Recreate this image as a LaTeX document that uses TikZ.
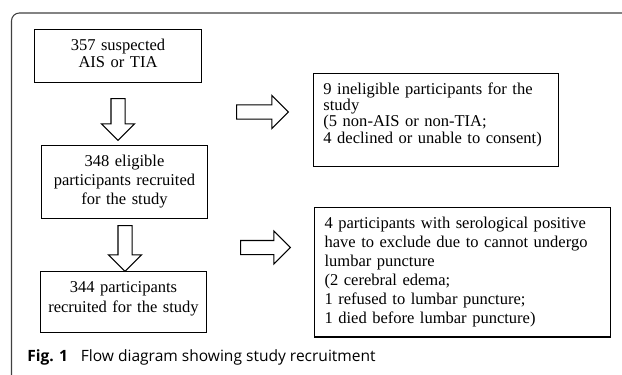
\documentclass[tikz,border=0pt]{standalone}
\usepackage{fontspec}
\setmainfont{Liberation Serif}
\newfontfamily\capfont{Open Sans}
\usetikzlibrary{shapes.arrows}

\begin{document}
\begin{tikzpicture}[x=0.02cm, y=-0.02cm,
		box/.style={draw, line width=0.6pt, inner ysep=0pt, text height=11.9pt},
		stage/.style={box, inner xsep=1.1pt, text width=92.6pt, align=center},
		drop/.style={box, inner xsep=5.7pt, align=left},
		blockarrow/.style={single arrow, draw, fill=white, line width=0.6pt, inner xsep=0pt, inner ysep=3.7pt, minimum width=18.1pt, single arrow head extend=5.4pt}]
	\useasboundingbox (0,0) rectangle (622,375);
	% frame
	\draw[black!75, line width=0.6pt, rounded corners=4.5pt] (622,13) -- (11.5,13) -- (11.5,375);
	% main stages
	\node[stage, anchor=north, text depth=18.1pt, font=\fontsize{9.4}{9.6}\selectfont] (B0) at (118,29) {357 suspected\\AIS or TIA};
	\node[stage, anchor=north, text depth=29.5pt, font=\fontsize{9.4}{10.8}\selectfont] (B1) at (124.5,145) {348 eligible\\participants recruited\\for the study};
	\node[stage, anchor=north, text depth=22.7pt, font=\fontsize{9.4}{11.3}\selectfont] (B2) at (123.5,271) {344 participants\\recruited for the study};
	% excluded
	\node[drop, anchor=north, text width=128.1pt, text depth=40.8pt, font=\fontsize{9.4}{9.25}\selectfont] (E1) at (436,73) {9 ineligible participants for the\\study\\(5 non-AIS or non-TIA;\\4 declined or unable to consent)};
	\node[drop, anchor=north, text width=157pt, text depth=61.8pt, font=\fontsize{9.4}{10.8}\selectfont] (E2) at (462.5,207) {4 participants with serological positive\\have to exclude due to cannot undergo\\lumbar puncture\\(2 cerebral edema;\\1 refused to lumbar puncture;\\1 died before lumbar puncture)};
	% arrows
	\node[blockarrow, rotate=-90, minimum height=23.8pt] (A1) at (118,116) {};
	\node[blockarrow, rotate=-90, minimum height=26.1pt] (A2) at (125,245) {};
	\node[blockarrow, minimum height=29.5pt] (A3) at (259,112) {};
	\node[blockarrow, minimum height=28.3pt] (A4) at (262,247.5) {};
	% caption
	\node[anchor=base west, inner sep=0pt, font=\capfont\fontsize{8.85}{10}\selectfont] (C) at (27,361) {\textbf{Fig. 1}\hspace{5pt} Flow diagram showing study recruitment};
\end{tikzpicture}
\end{document}
